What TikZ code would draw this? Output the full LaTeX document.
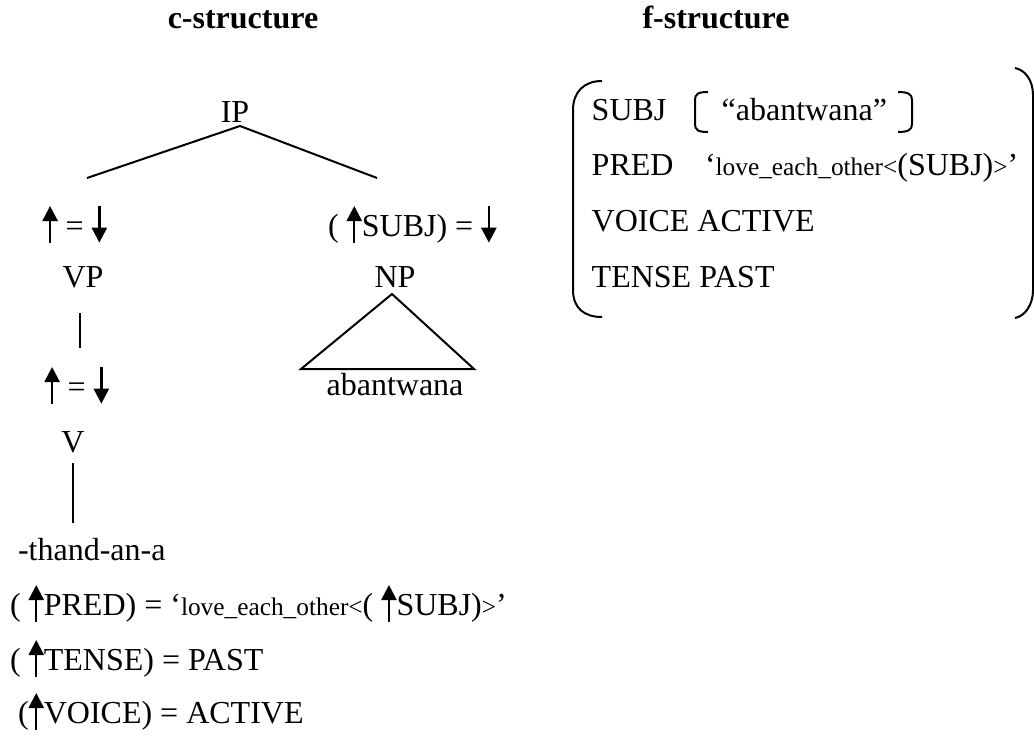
\documentclass[tikz,border=0pt]{standalone}
\usepackage{fontspec}
\setmainfont{Liberation Serif}
\usetikzlibrary{arrows.meta}
\newcommand\upar{\tikz[baseline=0pt]{\path (-5.7pt,0pt) (5.7pt,0pt); \draw[line width=1.8pt,-{Triangle[width=11.25pt,length=11.25pt]}] (0pt,-5pt) -- (0pt,22.5pt);}}
\newcommand\dnar{\tikz[baseline=0pt]{\path (-5.7pt,0pt) (5.7pt,0pt); \draw[line width=1.8pt,-{Triangle[width=11.25pt,length=11.25pt]}] (0pt,22.5pt) -- (0pt,-5pt);}}
\newcommand\smtxt{\fontsize{19pt}{22pt}\selectfont}
\begin{document}
\begin{tikzpicture}[x=0.75pt,y=-0.75pt,
  every node/.style={inner sep=0pt, outer sep=0pt, font=\fontsize{24pt}{28pt}\selectfont},
  title/.style={font=\fontsize{24pt}{28pt}\selectfont\bfseries, anchor=base},
  lbl/.style={anchor=base},
  txt/.style={anchor=base west},
  branch/.style={line width=1.5pt},
  bracket/.style={line width=1.5pt}]
\useasboundingbox (0,0) rectangle (1034,735);

% titles
\node[title] (ctitle) at (243,29) {c-structure};
\node[title] (ftitle) at (716,29) {f-structure};

% c-structure tree
\node[lbl] (IP) at (235,122) {IP};
\coordinate (ipb) at (240,126);
\coordinate (lt) at (87,178);
\coordinate (rt) at (377,178);
\draw[branch] (lt) -- (ipb) -- (rt);

\node[txt] (annVP) at (42.5,236) {\upar{} = \dnar};
\node[txt] (annNP) at (328,236) {( \upar SUBJ) = \dnar};

\node[lbl] (VP) at (83,287) {VP};
\node[lbl] (NP) at (395,287) {NP};

\coordinate (vpb) at (80,313);
\coordinate (vpe) at (80,348);
\draw[branch] (vpb) -- (vpe);

\coordinate (npt) at (392,294);
\coordinate (npl) at (301,369);
\coordinate (npr) at (474,369);
\draw[branch] (npl) -- (npt) -- (npr) -- cycle;
\node[lbl] (abn) at (395,395) {abantwana};

\node[txt] (annV) at (44.5,397) {\upar{} = \dnar};
\node[lbl] (V) at (73,452) {V};
\coordinate (vb) at (73,463);
\coordinate (ve) at (73,523);
\draw[branch] (vb) -- (ve);

\node[txt] (morph) at (18,560) {-thand-an-a};
\node[txt] (eq1) at (10,615) {( \upar PRED) = `{\smtxt love\_each\_other<}( \upar SUBJ){\smtxt >}'};
\node[txt] (eq2) at (10,670) {( \upar TENSE) = PAST};
\node[txt] (eq3) at (18,723) {(\upar VOICE) = ACTIVE};

% f-structure
\node[txt] (fsubj) at (591.7,120) {SUBJ};
\node[txt] (fsubjv) at (721.7,120) {``abantwana''};
\draw[bracket] (708,92) .. controls (698,92) and (695,94) .. (695,100) -- (695,124) .. controls (695,130) and (698,132) .. (708,132);
\draw[bracket] (898,92) .. controls (908,92) and (912,94) .. (912,100) -- (912,124) .. controls (912,130) and (908,132) .. (898,132);
\node[txt] (fpred) at (591.7,175) {PRED};
\node[txt] (fpredv) at (705,175) {`{\smtxt love\_each\_other<}(SUBJ){\smtxt >}'};
\node[txt] (fvoice) at (591.7,231) {VOICE ACTIVE};
\node[txt] (ftense) at (591.7,287) {TENSE PAST};
\draw[bracket] (602,81) .. controls (584,81) and (573,92) .. (573,110) -- (573,290) .. controls (573,308) and (584,317) .. (602,317);
\draw[bracket] (1015,68) .. controls (1025,70) and (1033,80) .. (1033,95) -- (1033,290) .. controls (1033,305) and (1025,316) .. (1015,318);
\end{tikzpicture}
\end{document}
